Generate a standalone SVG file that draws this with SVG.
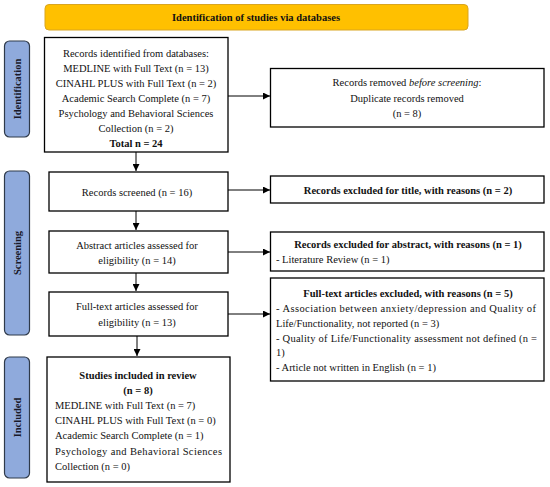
<svg xmlns="http://www.w3.org/2000/svg" width="550" height="487" viewBox="0 0 550 487">
<defs>
<marker id="ah" viewBox="0 0 10 10" refX="10" refY="5" markerWidth="7" markerHeight="7" markerUnits="userSpaceOnUse" orient="auto"><path d="M0,0 L10,5 L0,10 z" fill="#000"/></marker>
<style>
.box{fill:#fff;stroke:#000;stroke-width:1.3}
.side{fill:#8FAADC;stroke:#2F3A4A;stroke-width:1.2}
.t{font-family:"Liberation Serif","Times New Roman",serif;font-size:10.5px;fill:#111}
.c{text-anchor:middle}
.b{font-weight:bold}
.sl{font-family:"Liberation Serif",serif;font-size:10.5px;font-weight:bold;fill:#1a1a2a;text-anchor:middle}
.con{stroke:#000;stroke-width:1;fill:none;marker-end:url(#ah)}
</style>
</defs>
<rect width="550" height="487" fill="#fff"/>
<g id="banner">
<rect x="45" y="4.5" width="423" height="25.5" rx="4" fill="#FFC000" stroke="#D9A520" stroke-width="1"/>
<text class="t c b" x="256" y="21">Identification of studies via databases</text>
</g>
<g id="side-identification">
<rect class="side" x="4.5" y="41" width="25" height="96" rx="5"/>
<text class="sl" transform="translate(21,89) rotate(-90)">Identification</text>
</g>
<g id="side-screening">
<rect class="side" x="4.5" y="171" width="25" height="164" rx="5"/>
<text class="sl" transform="translate(21,253) rotate(-90)">Screening</text>
</g>
<g id="side-included">
<rect class="side" x="4.5" y="357" width="25" height="121" rx="5"/>
<text class="sl" transform="translate(21,417.5) rotate(-90)">Included</text>
</g>
<g id="connectors">
<line class="con" x1="228" y1="96" x2="270" y2="96"/>
<line class="con" x1="136" y1="152" x2="136" y2="171"/>
<line class="con" x1="228" y1="190" x2="270" y2="190"/>
<line class="con" x1="136" y1="211" x2="136" y2="230"/>
<line class="con" x1="228" y1="252" x2="270" y2="252"/>
<line class="con" x1="136" y1="273" x2="136" y2="291"/>
<line class="con" x1="228" y1="314" x2="270" y2="314"/>
<line class="con" x1="137" y1="336" x2="137" y2="356"/>
</g>
<g id="records-identified">
<rect class="box" x="44.5" y="37.5" width="183.5" height="114.5"/>
<text class="t c" x="136" y="57">Records identified from databases:</text>
<text class="t c" x="136" y="72">MEDLINE with Full Text (n = 13)</text>
<text class="t c" x="136" y="87">CINAHL PLUS with Full Text (n = 2)</text>
<text class="t c" x="136" y="102">Academic Search Complete (n = 7)</text>
<text class="t c" x="136" y="117">Psychology and Behavioral Sciences</text>
<text class="t c" x="136" y="132">Collection (n = 2)</text>
<text class="t c b" x="136" y="147">Total n = 24</text>
</g>
<g id="records-removed">
<rect class="box" x="270.5" y="68.5" width="273.5" height="58.5"/>
<text class="t c" x="407" y="86">Records removed <tspan font-style="italic">before screening</tspan>:</text>
<text class="t c" x="407" y="101.5">Duplicate records removed</text>
<text class="t c" x="407" y="117">(n = 8)</text>
</g>
<g id="records-screened">
<rect class="box" x="49" y="172" width="179" height="39"/>
<text class="t c" x="137" y="196">Records screened (n = 16)</text>
</g>
<g id="excluded-title">
<rect class="box" x="270.5" y="176" width="273.5" height="27"/>
<text class="t c b" x="408" y="194">Records excluded for title, with reasons (n = 2)</text>
</g>
<g id="abstract-assessed">
<rect class="box" x="49" y="231" width="179" height="42"/>
<text class="t c" x="137" y="249">Abstract articles assessed for</text>
<text class="t c" x="137" y="264">eligibility (n = 14)</text>
</g>
<g id="excluded-abstract">
<rect class="box" x="270.5" y="232" width="273.5" height="39"/>
<text class="t c b" x="408" y="248">Records excluded for abstract, with reasons (n = 1)</text>
<text class="t" x="276" y="263">- Literature Review (n = 1)</text>
</g>
<g id="fulltext-assessed">
<rect class="box" x="49" y="292" width="179" height="44"/>
<text class="t c" x="137" y="310">Full-text articles assessed for</text>
<text class="t c" x="137" y="326">eligibility (n = 13)</text>
</g>
<g id="fulltext-excluded">
<rect class="box" x="270.5" y="278" width="273.5" height="103"/>
<text class="t c b" x="408" y="297">Full-text articles excluded, with reasons (n = 5)</text>
<text class="t" x="276" y="312" textLength="260" lengthAdjust="spacing">- Association between anxiety/depression and Quality of</text>
<text class="t" x="276" y="327">Life/Functionality, not reported (n = 3)</text>
<text class="t" x="276" y="342" textLength="261" lengthAdjust="spacing">- Quality of Life/Functionality assessment not defined (n =</text>
<text class="t" x="276" y="356">1)</text>
<text class="t" x="276" y="371">- Article not written in English (n = 1)</text>
</g>
<g id="studies-included">
<rect class="box" x="47" y="357" width="183" height="125"/>
<text class="t c b" x="138" y="379">Studies included in review</text>
<text class="t c b" x="138" y="394">(n = 8)</text>
<text class="t" x="55" y="409">MEDLINE with Full Text (n = 7)</text>
<text class="t" x="55" y="424">CINAHL PLUS with Full Text (n = 0)</text>
<text class="t" x="55" y="439">Academic Search Complete (n = 1)</text>
<text class="t" x="55" y="455" textLength="167" lengthAdjust="spacing">Psychology and Behavioral Sciences</text>
<text class="t" x="55" y="470">Collection (n = 0)</text>
</g>
</svg>
